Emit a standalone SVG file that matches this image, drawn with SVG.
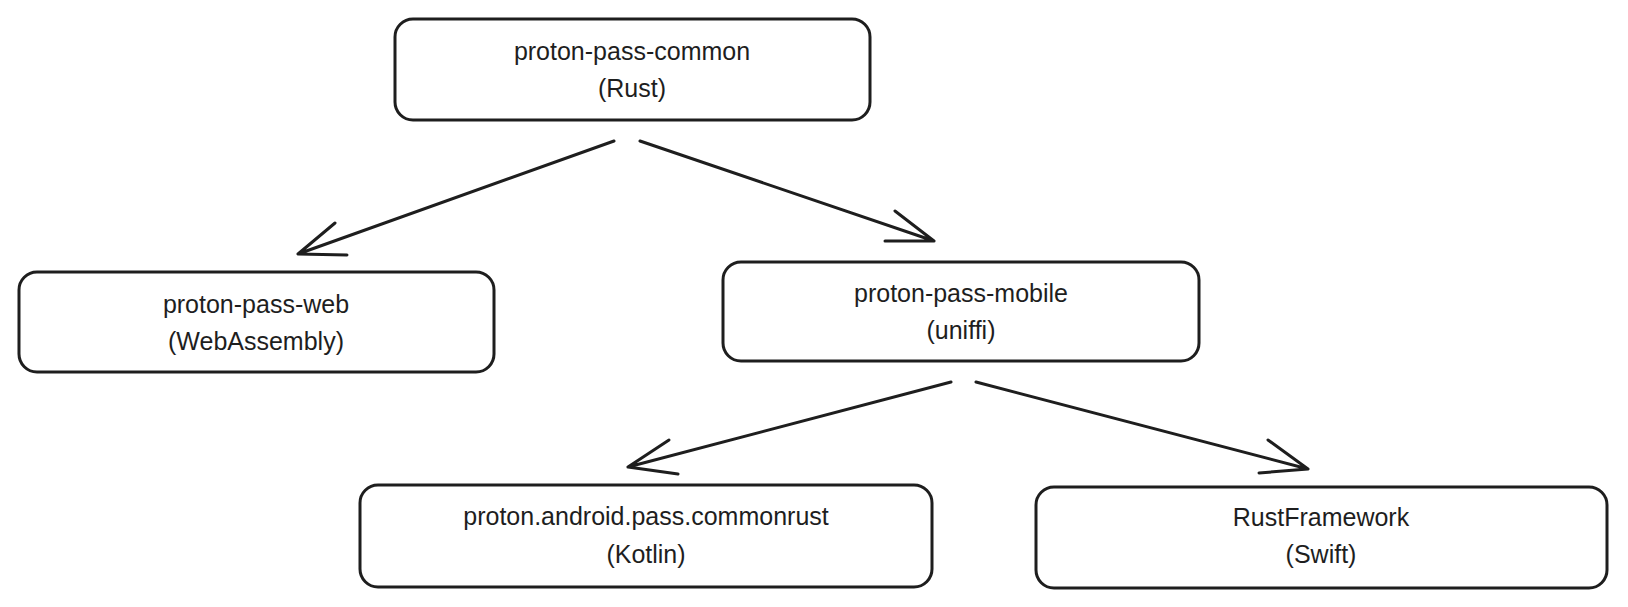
<svg xmlns="http://www.w3.org/2000/svg" width="1628" height="607" viewBox="0 0 1628 607">
<style>
.n rect{fill:#fff;stroke:#1e1e1e;stroke-width:3}
.n text{font-family:"Liberation Sans",sans-serif;font-size:25px;fill:#1e1e1e;text-anchor:middle}
.c path{fill:none;stroke:#1e1e1e;stroke-width:3;stroke-linecap:round;stroke-linejoin:round}
</style>
<rect width="1628" height="607" fill="#fff"/>
<g class="c" id="connectors">
<path d="M614 141 L298 254 M298 254 L335 223 M298 254 L347 255"/>
<path d="M640 141 L934 241 M934 241 L895 211 M934 241 L885 241"/>
<path d="M951 382 L628 467 M628 467 L669 440 M628 467 L678 474"/>
<path d="M976 382 L1308 469 M1308 469 L1268 440 M1308 469 L1259 473"/>
</g>
<g class="n" id="n1"><rect x="395" y="19" width="475" height="101" rx="18"/><text x="632" y="60">proton-pass-common</text><text x="632" y="97">(Rust)</text></g>
<g class="n" id="n2"><rect x="19" y="272" width="475" height="100" rx="18"/><text x="256" y="313">proton-pass-web</text><text x="256" y="350">(WebAssembly)</text></g>
<g class="n" id="n3"><rect x="723" y="262" width="476" height="99" rx="18"/><text x="961" y="302">proton-pass-mobile</text><text x="961" y="339">(uniffi)</text></g>
<g class="n" id="n4"><rect x="360" y="485" width="572" height="102" rx="18"/><text x="646" y="525">proton.android.pass.commonrust</text><text x="646" y="563">(Kotlin)</text></g>
<g class="n" id="n5"><rect x="1036" y="487" width="571" height="101" rx="18"/><text x="1321" y="526">RustFramework</text><text x="1321" y="563">(Swift)</text></g>
</svg>
